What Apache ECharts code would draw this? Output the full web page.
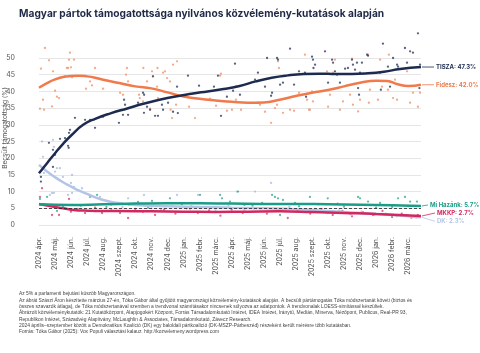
<!DOCTYPE html>
<html><head><meta charset="utf-8">
<script src="https://cdn.jsdelivr.net/npm/echarts@6/dist/echarts.min.js"></script>
<style>html,body{margin:0;padding:0;background:#fff}#c{width:480px;height:353px}</style>
</head><body><div id="c"></div>
<script>
// x values = months since 2024 April 1 (fractional)
const monthLabels = ['2024 ápr.','2024 máj.','2024 jún.','2024 júl.','2024 aug.','2024 szept.','2024 okt.','2024 nov.','2024 dec.','2025 jan.','2025 febr.','2025 márc.','2025 ápr.','2025 máj.','2025 jún.','2025 júl.','2025 aug.','2025 szept.','2025 okt.','2025 nov.','2025 dec.','2026 jan.','2026 febr.','2026 márc.'];
const yTicks = [0,5,10,15,20,25,30,35,40,45,50];

const tiszaPolls = [[0.12,14.4],[0.12,13],[0.62,24.6],[0.87,17.4],[0.87,22.5],[1.0,21],[1.31,25.8],[1.62,26],[1.87,27.6],[1.93,28.5],[1.81,23.7],[1.85,23.1],[2.24,32.1],[2.87,31.5],[3.18,31.5],[3.49,29.1],[3.99,32.4],[4.98,30.6],[5.30,37.5],[5.36,36],[5.23,33],[5.55,33],[6.17,36.6],[6.48,39.6],[6.55,39],[6.54,33.6],[6.73,35.4],[6.92,34.5],[7.10,44.5],[7.41,32.7],
[7.23,32.7],[7.73,34.5],[7.66,36],[8.04,36.6],[8.35,33.9],[8.60,41.4],[8.65,33.5],[9.28,44.7],[9.72,38],[9.97,41.7],[10.90,41.4],[11.15,44.7],[11.34,32.7],[11.71,38.4],[12.09,40.2],[12.21,48.3],[12.27,41.4],[12.52,39],[13.46,43.5],[13.64,45.6],[14.08,41.4],[14.21,50],[14.46,38.7],[14.52,39.6],[14.83,50],[14.89,49.5],[15.02,42],[15.20,42.6],[15.64,52.8],[15.89,42],[16.20,46],[16.57,45.6],[16.64,38.4],
[17.01,50.4],[17.07,49.5],[17.20,48],[17.1,47],[17.82,52],[18.01,42.6],[18.26,49.5],[18.32,48.6],[18.44,46],[18.57,45],[18.75,42.6],[19.07,46.8],[19.25,47],[19.50,49.5],[19.56,48],[19.69,46.5],[19.81,48.6],[19.88,41],[19.94,39],[20.00,45.6],[20.12,48.6],[20.44,51],[20.50,50.7],[21.25,45.6],[21.3,40.5],[21.43,54.3],[21.74,47.4],[21.87,41.4],[22.06,50],[22.31,48],[22.37,47.4],[22.80,53],[22.93,48.6],[23.12,52],[23.30,51.6],[23.74,48],[23.7,41],[23.61,57.4]];

const fideszPolls = [[0.37,53],[0.62,49.3],[0.12,46.8],[1.93,51.6],[1.87,49.5],[2.18,49.5],[0.87,46],[0.25,37.5],[0.06,34.8],[0.31,34.5],[0.81,35.5],[1.0,40.2],[1.12,38.4],[1.25,38],[1.74,47],[1.81,47],[1.99,47.2],[2.06,44.2],[1.62,44.5],[2.93,40.8],[3.18,43],[3.30,41.8],[3.49,47],[3.99,40.8],[5.05,39.6],[5.23,39],[5.48,47],[5.42,45],[5.55,43],[6.23,39],[6.28,38],[6.48,37],[6.5,47],[6.73,43],[7.04,46],[7.10,44.5],[7.35,41.4],
[6.92,34.8],[7.38,47],[7.41,38],[7.73,45.6],[7.85,46],[7.98,44],[8.16,43],[8.2,34.5],[8.29,32],[8.35,48],[8.60,49],[8.54,36],[9.35,35.4],[9.72,32],[10.65,37.8],[11.03,35.7],[11.28,44.7],[11.34,45.3],[11.71,34.2],[12.02,34.5],[12.27,37.5],[12.59,34.5],[13.64,36.6],[13.77,36],[14.08,33.9],[14.46,30.6],[14.70,35],[14.83,36],[14.89,49],[14.95,47],[15.20,33.6],[15.64,34.5],[15.89,34.2],[16.20,39.6],[16.70,37.5],[16.82,34.5],
[16.57,51],[17.01,40],[17.07,37],[16.88,34.5],[17.94,46],[18.13,39],[18.01,35.4],[18.32,45.6],[18.75,34.5],[18.94,37],[19.38,39],[19.56,36],[19.88,34],[20.0,37.5],[20.5,51],[20.62,40.5],[20.55,36.6],[21.12,37.5],[21.25,49.5],[21.37,41.4],[21.74,40.5],[21.8,51],[22.06,38],[22.31,37.5],[22.18,43.5],[22.93,46],[23.12,36.6],[23.30,39.6],[23.61,35.4],[23.74,39.6],[19.5,49.8],[18.44,49.5]];

const mihazankPolls = [[0.06,7.8],[0.5,8.4],[1.12,4.2],[2.06,6],[3.18,8.4],[3.62,9],[4.93,6.6],[6.17,6.9],[7.04,7.2],[0.3,6.2],[1.5,5.5],[2.6,5.8],[4.2,5.4],[5.6,6.1],[6.8,5.2],[8.16,8],[8.9,6.2],[9.5,5.6],[10.03,9],[11.28,9],[11.4,8],[11.9,7],[12.4,10],[12.8,6],[13.3,5.8],[14.52,9],[14.7,8.4],[14.89,8],[15.02,3],[15.2,7.5],[15.95,6.6],[16.88,8.4],[16.2,5.6],[17.4,6.2],[17.99,8],[18.6,6.4],[19.88,8.4],[20.0,8],[20.5,7],[21.25,6.6],[21.0,5.2],[22.37,8],[22.80,8.4],[23.12,7],[23.55,7],[22.0,5.4],[23.0,5.6],[9.9,5.4],[13.9,6.6],[19.0,5.5]];

const mkkpPolls = [[0.19,11],[0.06,8.4],[0.81,3],[1.25,3],[1.87,7.8],[1.99,4],[2.87,3.6],[3.93,3.6],[5.05,3.6],[5.55,2.1],[6.48,4],[7.23,3],[0.5,6],[1.6,5],[2.4,4.8],[3.5,5.2],[4.5,4.4],[6.0,4.8],[7.8,4.6],[8.5,3.4],[9.2,5],[9.9,3.6],[10.6,4.4],[11.3,2.8],[12.0,4.6],[12.7,3.6],[13.4,5],[14.2,3.4],[14.9,4.2],[15.5,2.1],[16.1,4.4],[16.9,3.4],[17.6,4.8],[18.3,3],[18.9,4.2],[19.5,2.6],[20.2,3.8],[20.8,3],[21.4,4.2],[22.0,2.4],[22.6,3.4],[23.2,2.2],[23.6,3]];

const dkPolls = [[0.19,25],[0.25,20.4],[0.31,15.6],[0.87,25.5],[0.93,23.4],[1.12,17],[1.0,16],[1.49,14.4],[1.31,17],[1.99,12.6],[2.06,15],[2.18,11.4],[2.68,11],[0.68,9],[0.81,9.6],[0.93,9.6],[1.81,9],[2.06,9.6],[3.18,9],[3.80,8.4],[5.55,8],[6.54,9],[8.60,9],[9.91,9],[12.33,10],[13.46,10],[14.46,12.6],[4.5,6],[5.2,5.4],[6.0,6.2],[7.0,5],[7.6,4.6],[8.3,5.8],[9.4,4.8],[10.4,5.4],[11.0,4.4],[11.8,5.8],[12.8,4.6],[13.8,5],[14.8,4.4],[15.6,5.4],[16.4,4],[17.2,4.8],[18.0,3.6],[18.7,4.4],[19.4,3.2],[20.1,4],[20.9,3],[21.6,3.4],[22.3,2.6],[22.9,3],[23.5,2.2]];

const tiszaTrend = [[0,15.5],[0.5,18.5],[1,21.5],[1.5,24.3],[2,26.8],[2.75,30],[3.5,31.8],[4.5,33.5],[5.5,34.9],[6.5,36.3],[7.5,37.5],[8.5,38.5],[9.5,39.3],[10.5,40],[11.5,40.7],[12.5,41.6],[13.5,43],[14.5,44.1],[15.5,44.8],[16.5,45.2],[17.5,45.3],[18.5,45.2],[19.5,45.2],[20.5,45.4],[21.5,45.9],[22.5,46.7],[23.8,47.3]];
const fideszTrend = [[0,41.1],[0.5,42.5],[1,43.6],[1.5,44.3],[2,44.6],[2.5,44.7],[3,44.5],[3.5,44.1],[4,43.5],[5,42.5],[6,41.5],[7,40.9],[8,39.7],[9,38.5],[10,37.8],[11,37.3],[12,36.9],[13,36.6],[14,36.7],[15,37.5],[16,38.6],[17,39.6],[18,40.4],[19,41.5],[20,42.6],[21,43.2],[21.7,43.1],[22.3,42.2],[23,41.6],[23.8,42.0]];
const mihazankTrend = [[0,6.2],[2,6],[4,6.2],[6,6.4],[8,6.5],[10,6.5],[12,6.4],[14,6.3],[16,6.3],[18,6.2],[20,6.1],[22,5.9],[23.8,5.7]];
const mkkpTrend = [[0,6.3],[1,5.4],[2,4.6],[3,4.3],[5,4.2],[7,4.1],[9,4.0],[11,3.9],[13,4.0],[15,4.1],[17,3.9],[19,3.6],[21,3.3],[23.8,2.7]];
const dkTrend = [[0,18],[0.5,16],[1,14.3],[1.5,12.8],[2,11.5],[2.5,10.3],[3,9.3],[3.5,8.3],[4,7.5],[4.5,6.9],[5,6.5],[6,6],[8,5.6],[10,5.4],[12,5.2],[14,5],[16,4.7],[18,4.2],[20,3.6],[22,3],[23.8,2.3]];

const endLabels = ['TISZA: 47.3%','Fidesz: 42.0%','Mi Hazánk: 5.7%','MKKP: 2.7%','DK: 2.3%'];
const threshold = 5;

const titleText = 'Magyar pártok támogatottsága nyilvános közvélemény-kutatások alapján';
const yName = 'Becsült támogatottság (%)';
const notes = [
 'Az 5% a parlamenti bejutási küszöb Magyarországon.',
 'Az ábrát Szászi Áron készítette március 27-én, Tóka Gábor által gyűjtött magyarországi közvélemény-kutatások alapján. A becsült pártámogatás Tóka módszertanát követi (biztos és',
 'összes szavazók átlaga), de Tóka módszertanával szemben a trendvonal számításakor nincsenek súlyozva az adatpontok. A trendvonalak LOESS-simítással készültek.',
 'Ábrázolt közvéleménykutatók: 21 Kutatóközpont, Alapjogokért Központ, Forrás Társadalomkutató Intézet, IDEA Intézet, Iránytű, Medián, Minerva, Nézőpont, Publicus, Real-PR 93,',
 'Republikon Intézet, Századvég Alapítvány, McLaughlin & Associates, Társadalomkutató, Závecz Research.',
 '2024 április–szeptember között a Demokratikus Koalíció (DK) egy baloldali pártkoalíció (DK-MSZP-Párbeszéd) részeként került mérésre több kutatásban.',
 'Forrás: Tóka Gábor (2025): Vox Populi választási kalauz. http://kozvelemeny.wordpress.com'
];

const C = {tisza:'#1d2b4f', fidesz:'#f07a4c', mh:'#1b9c86', mkkp:'#d2275f', dk:'#b3c5e6'};

const chart = echarts.init(document.getElementById('c'), null, {renderer:'canvas'});
function sc(name, data, color, op){
  return {type:'scatter', name, data, symbolSize:2.3, clip:false, itemStyle:{color, opacity:op}, z:2, silent:true};
}
function ln(name, data, color, w, z){
  return {type:'line', name, data, smooth:0.5, showSymbol:false, lineStyle:{color, width:w}, z, silent:true};
}
const series = [
  sc('DK p', dkPolls, '#9fb3db', 0.7),
  sc('MKKP p', mkkpPolls, '#d2275f', 0.7),
  sc('MH p', mihazankPolls, '#1b9c86', 0.7),
  sc('Fidesz p', fideszPolls, '#f39a74', 0.85),
  sc('TISZA p', tiszaPolls, '#2e3c60', 0.8),
  ln('DK', dkTrend, C.dk, 2.5, 3),
  ln('MKKP', mkkpTrend, C.mkkp, 2.5, 4),
  Object.assign(ln('Mi Hazánk', mihazankTrend, C.mh, 2.5, 5), {markLine:{silent:true, symbol:['none','none'], label:{show:false}, lineStyle:{type:[3,2], color:'#222', width:0.8}, data:[{yAxis:threshold}]}}),
  ln('Fidesz', fideszTrend, C.fidesz, 2.5, 6),
  ln('TISZA', tiszaTrend, C.tisza, 2.5, 7)
];

chart.setOption({
  animation:false,
  backgroundColor:'#fff',
  textStyle:{fontFamily:'Inter, Roboto, sans-serif'},
  grid:{left:39, right:59, top:58, bottom:128, containLabel:false},
  xAxis:{type:'value', min:0, max:23.8, interval:1,
    axisLine:{show:false}, axisTick:{show:false}, splitLine:{show:false},
    axisLabel:{rotate:90, fontSize:7, color:'#555', margin:12, showMaxLabel:false,
      formatter:v=> (Number.isInteger(v) && monthLabels[v]) ? monthLabels[v] : ''}},
  yAxis:{type:'value', min:yTicks[0], max:yTicks[yTicks.length-1], interval:5,
    axisLine:{show:false}, axisTick:{show:false},
    splitLine:{lineStyle:{color:'#e6e6e6', width:1}},
    axisLabel:{fontSize:7, color:'#555', margin:24}},
  series
});

const ends = [
  {d:tiszaTrend, c:C.tisza, dy:0, lx:436, t:endLabels[0]},
  {d:fideszTrend, c:C.fidesz, dy:0, lx:436, t:endLabels[1]},
  {d:mihazankTrend, c:C.mh, dy:-1, lx:430, t:endLabels[2]},
  {d:mkkpTrend, c:C.mkkp, dy:-3, lx:437, t:endLabels[3]},
  {d:dkTrend, c:C.dk, dy:4, lx:437, t:endLabels[4]}
];
const g = [];
g.push({type:'text', left:19, top:9, style:{text:titleText, fontSize:10.2, fontWeight:'bold', fill:'#1f2a48', fontFamily:'Inter, sans-serif'}});
g.push({type:'text', x:5, y:128, rotation:Math.PI/2, style:{text:yName, fontSize:6.5, fill:'#555', align:'center', verticalAlign:'middle', fontFamily:'Inter, sans-serif'}});
ends.forEach(e=>{
  const last = e.d[e.d.length-1];
  const p = chart.convertToPixel({gridIndex:0}, last);
  const ly = p[1] + e.dy;
  g.push({type:'polyline', shape:{points:[[p[0]+1,p[1]],[e.lx-2,ly]]}, style:{stroke:e.c, lineWidth:0.8}, silent:true});
  g.push({type:'text', x:e.lx, y:ly, style:{text:e.t, fontSize:6, fontWeight:'bold', fill:e.c, verticalAlign:'middle', fontFamily:'Inter, sans-serif'}});
});
notes.forEach((t,i)=>{
  g.push({type:'text', x:19, y:294 + i*6.3, style:{text:t, fontSize:4.9, fill:'#444', verticalAlign:'middle', fontFamily:'Liberation Sans, Arial, sans-serif'}});
});
chart.setOption({graphic:g});
</script></body></html>
